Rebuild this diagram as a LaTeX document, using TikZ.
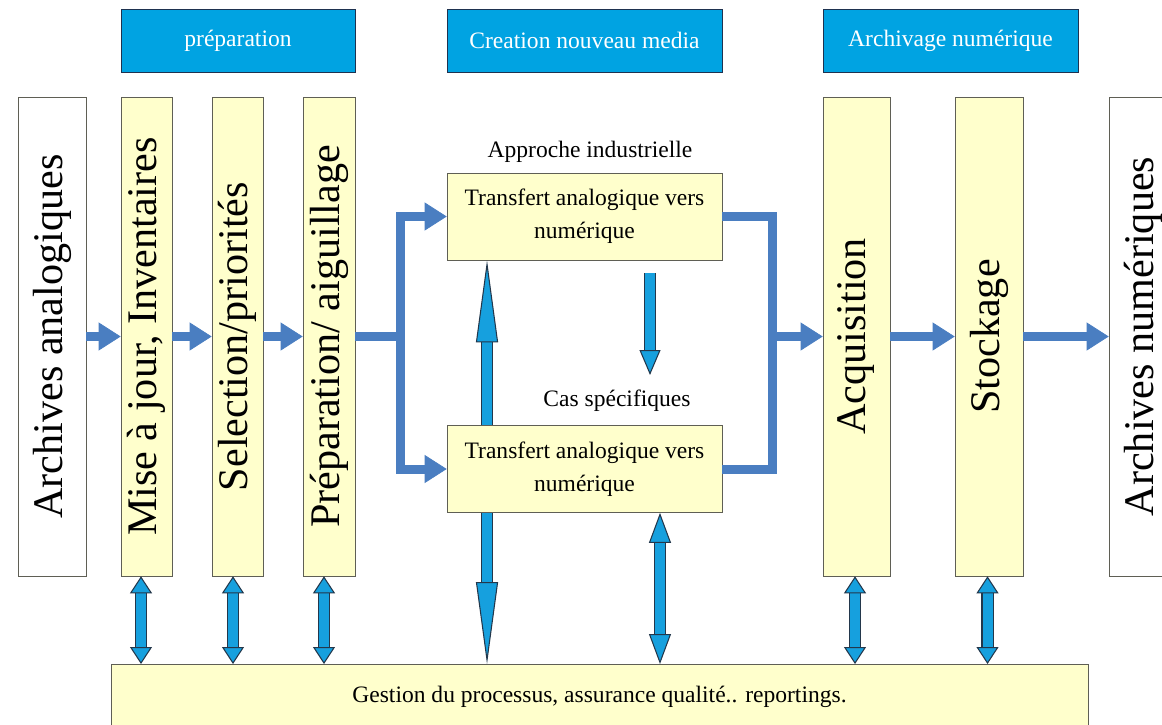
\documentclass[tikz,border=0pt]{standalone}
\usepackage{fontspec}
\setmainfont{Liberation Serif}
\usepackage{graphicx}
\usepackage{xcolor}
\usetikzlibrary{arrows.meta}

\definecolor{headblue}{RGB}{0,163,226}
\definecolor{headedge}{RGB}{30,50,80}
\definecolor{qblue}{RGB}{22,160,222}
\definecolor{qedge}{RGB}{35,55,75}
\definecolor{flowblue}{RGB}{74,126,193}
\definecolor{paleyellow}{RGB}{255,255,204}
\definecolor{boxedge}{RGB}{95,95,85}

\newcommand{\bigtxt}{\fontsize{24}{28}\selectfont}
\newcommand{\smalltxt}{\fontsize{13.4}{18.8}\selectfont}

\begin{document}
\begin{tikzpicture}[x=0.02cm, y=-0.02cm,
  head/.style={draw=headedge, fill=headblue, text=white, minimum height=1.26cm, inner sep=0pt, font=\smalltxt},
  vbox/.style={draw=boxedge, fill=paleyellow, minimum width=1.02cm, minimum height=9.58cm, inner sep=0pt, font=\bigtxt},
  tbox/.style={draw=boxedge, fill=paleyellow, minimum width=5.5cm, minimum height=1.74cm, inner sep=0pt, align=center, font=\smalltxt},
  flowline/.style={line width=0.18cm, draw=flowblue},
  flow/.style={flowline, -{Triangle[length=0.44cm, width=0.56cm, line width=0.4pt]}},
  qline/.style 2 args={line width=0.2cm, draw=qblue, preaction={draw=qedge, line width=0.25cm, arrows=-, shorten <=#1, shorten >=#2}},
  qboth/.style={qline={#1}{#1}, {Triangle[length=#1, width=0.44cm, fill=qblue, color=qedge, line width=0.6pt]}-{Triangle[length=#1, width=0.44cm, fill=qblue, color=qedge, line width=0.6pt]}},
  qend/.style={qline={0pt}{#1}, -{Triangle[length=#1, width=0.42cm, fill=qblue, color=qedge, line width=0.6pt]}}]
\clip (0,0) rectangle (1162,724);

% phases
\node[head, minimum width=4.68cm] (hprep) at (238,40.5) {préparation};
\node[head, minimum width=5.5cm] (hmedia) at (584.5,40.5) {Creation nouveau media};
\node[head, minimum width=5.1cm] (harch) at (950.5,40.5) {Archivage numérique};

% columns
\node[vbox, fill=white, minimum width=1.36cm] (analog) at (52,336.5) {\rotatebox{90}{Archives analogiques}};
\node[vbox] (mise) at (146.5,336.5) {\rotatebox{90}{Mise à jour, Inventaires}};
\node[vbox] (sel) at (237.5,336.5) {\rotatebox{90}{Selection/priorités}};
\node[vbox, minimum width=1.04cm] (prep) at (329,336.5) {\rotatebox{90}{Préparation/ aiguillage}};
\node[vbox, minimum width=1.34cm] (acq) at (856.5,336.5) {\rotatebox{90}{Acquisition}};
\node[vbox, minimum width=1.36cm] (stock) at (989,336.5) {\rotatebox{90}{Stockage}};
\node[vbox, fill=white, minimum width=1.36cm] (numer) at (1143,336.5) {\rotatebox{90}{Archives numériques}};

\node[tbox, anchor=north, minimum width=19.54cm, minimum height=1.3cm] (gestion) at (599.5,664) {Gestion du processus, assurance qualité.. reportings.};

% transfert
\node[font=\smalltxt] (appro) at (590,152) {Approche industrielle};
\node[tbox] (transA) at (584.5,216.5) {Transfert analogique vers\\numérique};
\node[font=\smalltxt] (cas) at (617,401) {Cas spécifiques};

\draw[qboth=1.64cm] ([xshift=-1.95cm]transA.south) -- ([xshift=-1.95cm]transA.south |- gestion.north);

\node[tbox] (transB) at (584.5,469) {Transfert analogique vers\\numérique};

\coordinate (dtop) at (650,273);
\coordinate (dtip) at (650,375);
\draw[qend=0.5cm] (dtop) -- (dtip);
\draw[qboth=0.6cm] ([xshift=1.51cm]transB.south) -- ([xshift=1.51cm]transB.south |- gestion.north);

% flux principal
\coordinate (split) at (400,336.5);
\coordinate (merge) at (772,336.5);
\draw[flow] (analog) -- (mise);
\draw[flow] (mise) -- (sel);
\draw[flow] (sel) -- (prep);
\draw[flowline] (prep) -- (split);
\draw[flow] (split) |- (transA);
\draw[flow] (split) |- (transB);
\draw[flowline] (transA) -| (merge) |- (transB);
\draw[flow] (merge) -- (acq);
\draw[flow] (acq) -- (stock);
\draw[flow] (stock) -- (numer);

% liens avec la gestion
\draw[qboth=0.34cm] ([xshift=-0.11cm]mise.south) -- ([xshift=-0.11cm]mise.south |- gestion.north);
\draw[qboth=0.34cm] ([xshift=-0.09cm]sel.south) -- ([xshift=-0.09cm]sel.south |- gestion.north);
\draw[qboth=0.34cm] ([xshift=-0.1cm]prep.south) -- ([xshift=-0.1cm]prep.south |- gestion.north);
\draw[qboth=0.34cm] ([xshift=-0.03cm]acq.south) -- ([xshift=-0.03cm]acq.south |- gestion.north);
\draw[qboth=0.34cm] ([xshift=-0.03cm]stock.south) -- ([xshift=-0.03cm]stock.south |- gestion.north);
\end{tikzpicture}
\end{document}
